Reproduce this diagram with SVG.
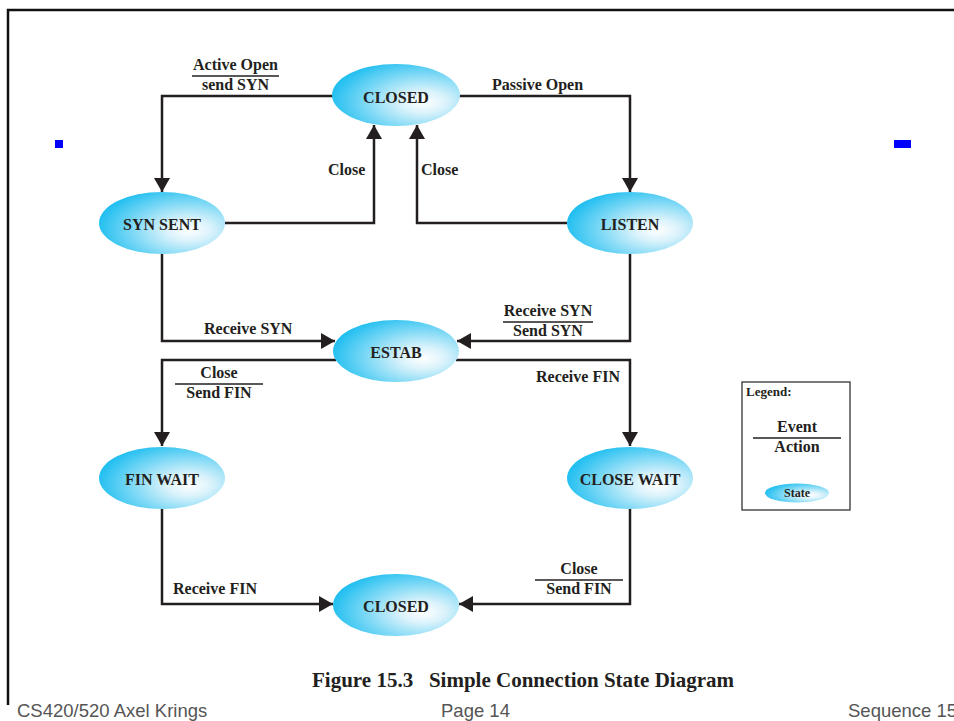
<svg xmlns="http://www.w3.org/2000/svg" width="954" height="721" viewBox="0 0 954 721">
  <style>
    .state { fill: url(#stateFill); }
    .st { font-family: "Liberation Serif", "Times New Roman", serif; font-weight: bold; font-size: 16px; fill: #231f20; text-anchor: middle; }
    .lbl { font-family: "Liberation Serif", "Times New Roman", serif; font-weight: bold; font-size: 16px; fill: #231f20; }
    .mid { text-anchor: middle; }
    .edge { fill: none; stroke: #231f20; stroke-width: 2.5; marker-end: url(#arrow); }
    .bar { stroke: #231f20; stroke-width: 1.3; }
    .foot { font-family: "Liberation Sans", Arial, sans-serif; font-size: 18.5px; fill: #555555; }
  </style>
  <defs>
    <radialGradient id="stateFill" cx="0.7" cy="0.6" fx="0.72" fy="0.62" r="0.72">
      <stop offset="0" stop-color="#ffffff"/>
      <stop offset="0.25" stop-color="#d9f2fb"/>
      <stop offset="1" stop-color="#1ebef0"/>
    </radialGradient>
    <marker id="arrow" markerUnits="userSpaceOnUse" markerWidth="15" markerHeight="17" refX="14" refY="8" orient="auto">
      <path d="M0,0 L14,8 L0,16 z" fill="#231f20"/>
    </marker>
  </defs>

  <rect width="954" height="721" fill="#ffffff"/>

  <!-- page frame -->
  <path d="M8,705 V10 H954" fill="none" stroke="#111111" stroke-width="2.5"/>

  <!-- small blue marks -->
  <rect x="55" y="140" width="8" height="8" fill="#0000ff"/>
  <rect x="894" y="140" width="17" height="8" fill="#0000ff"/>

  <!-- transitions -->
  <g id="connectors">
    <path class="edge" d="M333,96 H162 V192"/>
    <path class="edge" d="M459,96 H630 V192"/>
    <path class="edge" d="M225,223 H374 V125"/>
    <path class="edge" d="M567,223 H417 V125"/>
    <path class="edge" d="M162,254 V341 H335"/>
    <path class="edge" d="M630,254 V341 H457"/>
    <path class="edge" d="M336,360 H162 V446"/>
    <path class="edge" d="M456,360 H630 V446"/>
    <path class="edge" d="M162,509 V604 H333"/>
    <path class="edge" d="M630,509 V604 H459"/>
  </g>

  <!-- transition labels -->
  <g id="labels">
    <text class="lbl mid" x="235.5" y="70">Active Open</text>
    <line class="bar" x1="192" y1="76" x2="279" y2="76"/>
    <text class="lbl mid" x="235.5" y="90">send SYN</text>

    <text class="lbl" x="492" y="90">Passive Open</text>

    <text class="lbl" x="328" y="175">Close</text>
    <text class="lbl" x="421" y="175">Close</text>

    <text class="lbl" x="204" y="334">Receive SYN</text>

    <text class="lbl mid" x="548" y="316">Receive SYN</text>
    <line class="bar" x1="503" y1="322" x2="593" y2="322"/>
    <text class="lbl mid" x="548" y="336">Send SYN</text>

    <text class="lbl mid" x="219" y="378">Close</text>
    <line class="bar" x1="175" y1="384" x2="263" y2="384"/>
    <text class="lbl mid" x="219" y="398">Send FIN</text>

    <text class="lbl" x="536" y="382">Receive FIN</text>

    <text class="lbl" x="173" y="594">Receive FIN</text>

    <text class="lbl mid" x="579" y="574">Close</text>
    <line class="bar" x1="535" y1="580" x2="623" y2="580"/>
    <text class="lbl mid" x="579" y="594">Send FIN</text>
  </g>

  <!-- states -->
  <g id="closed-top">
    <ellipse class="state" cx="396" cy="95" rx="64" ry="31"/>
    <text class="st" x="396" y="103">CLOSED</text>
  </g>
  <g id="syn-sent">
    <ellipse class="state" cx="162" cy="223" rx="63" ry="31"/>
    <text class="st" x="162" y="230">SYN SENT</text>
  </g>
  <g id="listen">
    <ellipse class="state" cx="630" cy="223" rx="63" ry="31"/>
    <text class="st" x="630" y="230">LISTEN</text>
  </g>
  <g id="estab">
    <ellipse class="state" cx="396" cy="351" rx="63" ry="31"/>
    <text class="st" x="396" y="358">ESTAB</text>
  </g>
  <g id="fin-wait">
    <ellipse class="state" cx="162" cy="478" rx="63" ry="31"/>
    <text class="st" x="162" y="485">FIN WAIT</text>
  </g>
  <g id="close-wait">
    <ellipse class="state" cx="630" cy="478" rx="63" ry="31"/>
    <text class="st" x="630" y="485">CLOSE WAIT</text>
  </g>
  <g id="closed-bottom">
    <ellipse class="state" cx="396" cy="605" rx="63" ry="31"/>
    <text class="st" x="396" y="612">CLOSED</text>
  </g>

  <!-- legend -->
  <g id="legend">
    <rect x="742" y="382" width="108" height="128" fill="#ffffff" stroke="#333333" stroke-width="1.3"/>
    <text class="lbl" x="746" y="396" style="font-size:13px">Legend:</text>
    <text class="lbl mid" x="797" y="432">Event</text>
    <line class="bar" x1="753" y1="438" x2="841" y2="438"/>
    <text class="lbl mid" x="797" y="452">Action</text>
    <ellipse class="state" cx="797" cy="493" rx="32" ry="9.5"/>
    <text class="st" x="797" y="497" style="font-size:12px">State</text>
  </g>

  <!-- caption -->
  <text x="523" y="687" text-anchor="middle" style="font-family:'Liberation Serif','Times New Roman',serif;font-weight:bold;font-size:21px;fill:#231f20" xml:space="preserve">Figure 15.3   Simple Connection State Diagram</text>

  <!-- footer -->
  <text class="foot" x="17" y="717">CS420/520 Axel Krings</text>
  <text class="foot" x="441" y="717">Page 14</text>
  <text class="foot" x="848" y="717">Sequence 15</text>
</svg>
